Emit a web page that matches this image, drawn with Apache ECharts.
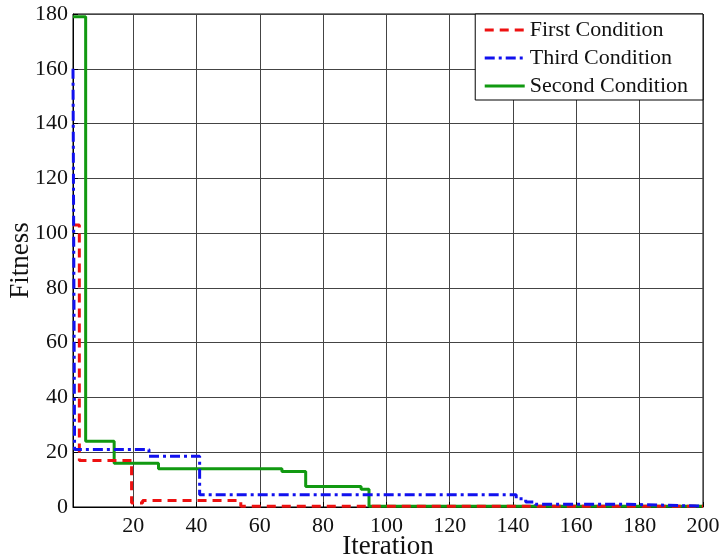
<!DOCTYPE html>
<html><head><meta charset="utf-8">
<script src="https://cdn.jsdelivr.net/npm/echarts@6/dist/echarts.min.js"></script>
<style>html,body{margin:0;padding:0;background:#fff}#c{width:720px;height:554px}</style>
</head><body><div id="c"></div>
<script>
const xTicks = [20, 40, 60, 80, 100, 120, 140, 160, 180, 200];
const firstCondition = [[1,103],[3,17],[19.5,1.5],[23,2.4],[54,0.3],[200,0.3]];
const thirdCondition = [[1,160],[1.5,21],[25,18.5],[41,4.5],[141,3],[144,1.8],[147,1],[176,0.3],[200,0.3]];
const secondCondition = [[1,179],[5,24],[14,16],[28,14],[67,13],[74.5,7.5],[92,6.5],[94.5,0.3],[200,0.3]];
const seriesNames = ['First Condition', 'Third Condition', 'Second Condition'];

const font = 'Liberation Serif';
const chart = echarts.init(document.getElementById('c'));
chart.setOption({
  animation: false,
  grid: {left: 73, right: 17, top: 14, bottom: 47, outerBoundsMode: 'none', containLabel: false,
         show: true, borderColor: '#000', borderWidth: 1},
  legend: {
    data: seriesNames,
    orient: 'vertical', right: 17, top: 14,
    backgroundColor: '#fff', borderColor: '#000', borderWidth: 1,
    padding: [5, 15, 3, 8], itemWidth: 40, itemHeight: 14, itemGap: 6,
    itemStyle: {opacity: 0},
    lineStyle: {width: 3},
    textStyle: {fontFamily: font, fontSize: 22, lineHeight: 22, color: '#111'}
  },
  xAxis: {
    type: 'value', min: 1, max: 200,
    name: 'Iteration', nameLocation: 'middle', nameGap: 26, nameMoveOverlap: false,
    nameTextStyle: {fontFamily: font, fontSize: 27, color: '#111'},
    axisLine: {lineStyle: {color: '#000'}},
    axisTick: {inside: true, length: 5, customValues: xTicks, lineStyle: {color: '#000'}},
    axisLabel: {customValues: xTicks, fontFamily: font, fontSize: 22, color: '#111', margin: 8},
    splitLine: {show: true, lineStyle: {color: '#444', width: 1}}
  },
  yAxis: {
    type: 'value', min: 0, max: 180, interval: 20,
    name: 'Fitness', nameLocation: 'middle', nameGap: 39, nameMoveOverlap: false,
    nameTextStyle: {fontFamily: font, fontSize: 27, color: '#111'},
    axisLine: {show: true, lineStyle: {color: '#000'}},
    axisTick: {show: true, inside: true, length: 5, lineStyle: {color: '#000'}},
    axisLabel: {fontFamily: font, fontSize: 22, color: '#111', margin: 5},
    splitLine: {show: true, lineStyle: {color: '#444', width: 1}}
  },
  series: [
    {name: seriesNames[0], type: 'line', step: 'end', data: firstCondition, symbol: 'none', z: 3,
     lineStyle: {color: '#ee1111', width: 3, type: [9, 6]}, itemStyle: {color: '#ee1111'}},
    {name: seriesNames[1], type: 'line', step: 'end', data: thirdCondition, symbol: 'none', z: 4,
     lineStyle: {color: '#1111ee', width: 3, type: [10, 4, 3, 4]}, itemStyle: {color: '#1111ee'}},
    {name: seriesNames[2], type: 'line', step: 'end', data: secondCondition, symbol: 'none', z: 2,
     lineStyle: {color: '#119911', width: 3}, itemStyle: {color: '#119911'}}
  ]
});
</script></body></html>
